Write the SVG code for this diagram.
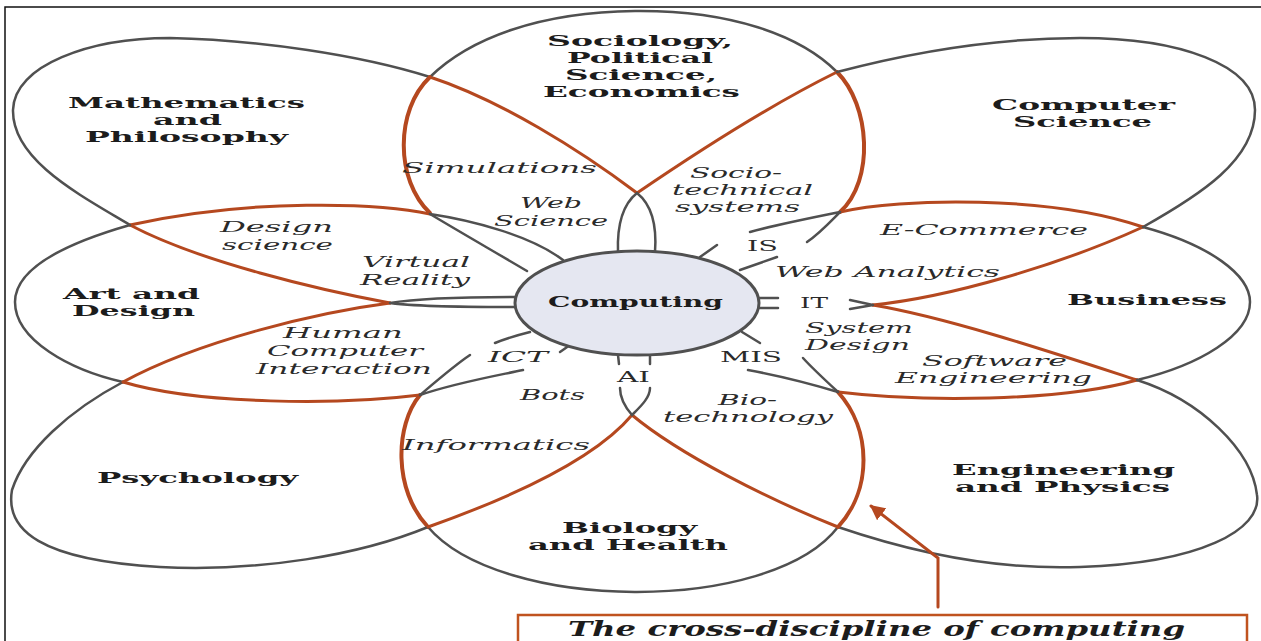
<svg xmlns="http://www.w3.org/2000/svg" width="1261" height="641" viewBox="0 0 1261 641">
<style>
.g{fill:none;stroke:#505050;stroke-width:2.5;stroke-linecap:round}
.r{fill:none;stroke:#b5481f;stroke-width:3;stroke-linecap:round}
.rt{stroke-width:4}
.b{font-family:"DejaVu Serif","Liberation Serif",serif;font-weight:bold;font-size:15px;fill:#1c1c1c}
.i{font-family:"DejaVu Serif","Liberation Serif",serif;font-style:italic;font-size:15px;fill:#2a2a2a}
.u{font-family:"DejaVu Serif","Liberation Serif",serif;font-size:15px;fill:#2a2a2a}
.cap{font-family:"DejaVu Serif","Liberation Serif",serif;font-weight:bold;font-style:italic;font-size:20px;fill:#1c1c1c}
</style>
<defs>
<marker id="head" viewBox="0 0 10 10" refX="9" refY="5" markerWidth="5" markerHeight="5" orient="auto" markerUnits="strokeWidth">
<path d="M0,0 L10,5 L0,10 Z" fill="#b5481f"/>
</marker>
</defs>
<rect width="1261" height="641" fill="#fff"/>
<path d="M5,641 V7 H1261" fill="none" stroke="#111" stroke-width="1.5"/>

<g id="math">
<path class="g" d="M430,77 C360,55 260,40 170,38 C90,38 14,65 13,110 C12,160 80,195 130,225"/>
<path class="r" d="M637,193 C580,150 500,100 430,77"/>
<path class="r" d="M130,225 C200,262 320,290 390,303"/>
<text class="b" x="68" y="108" textLength="237" lengthAdjust="spacingAndGlyphs">Mathematics</text>
<text class="b" x="153" y="125" textLength="69" lengthAdjust="spacingAndGlyphs">and</text>
<text class="b" x="85" y="142" textLength="203" lengthAdjust="spacingAndGlyphs">Philosophy</text>
</g>

<g id="sociology">
<path class="g" d="M430,77 C470,38 540,12 635,11 C730,10 800,35 837,72"/>
<path class="r rt" d="M430,213 C395,180 395,110 430,77"/>
<path class="r rt" d="M837,72 C870,105 875,180 840,212"/>
<text class="b" x="547" y="46" textLength="186" lengthAdjust="spacingAndGlyphs">Sociology,</text>
<text class="b" x="567" y="63" textLength="146" lengthAdjust="spacingAndGlyphs">Political</text>
<text class="b" x="565" y="80" textLength="152" lengthAdjust="spacingAndGlyphs">Science,</text>
<text class="b" x="543" y="97" textLength="197" lengthAdjust="spacingAndGlyphs">Economics</text>
</g>

<g id="cs">
<path class="r" d="M637,193 C700,150 770,105 837,72"/>
<path class="g" d="M837,72 C920,50 1000,38 1080,38 C1180,38 1255,65 1255,110 C1255,160 1200,195 1143,227"/>
<path class="r" d="M1143,227 C1060,265 950,297 873,305"/>
<text class="b" x="992" y="110" textLength="183" lengthAdjust="spacingAndGlyphs">Computer</text>
<text class="b" x="1013" y="127" textLength="139" lengthAdjust="spacingAndGlyphs">Science</text>
</g>

<g id="business">
<path class="r" d="M840,212 C900,198 1050,195 1143,227"/>
<path class="g" d="M1143,227 C1210,245 1250,275 1250,302 C1250,335 1200,365 1137,380"/>
<path class="r" d="M1137,380 C1060,402 920,402 838,392"/>
<text class="b" x="1067" y="305" textLength="160" lengthAdjust="spacingAndGlyphs">Business</text>
</g>

<g id="engineering">
<path class="r" d="M1137,380 C1060,355 950,318 873,305"/>
<path class="g" d="M838,527 C920,555 1000,570 1080,567 C1200,563 1262,530 1257,495 C1252,450 1200,400 1137,380"/>
<path class="r" d="M632,415 C680,455 770,500 838,527"/>
<text class="b" x="952" y="475" textLength="223" lengthAdjust="spacingAndGlyphs">Engineering</text>
<text class="b" x="955" y="492" textLength="215" lengthAdjust="spacingAndGlyphs">and Physics</text>
</g>

<g id="biology">
<path class="r rt" d="M420,395 C395,425 393,490 428,527"/>
<path class="g" d="M428,527 C500,612 770,615 838,527"/>
<path class="r rt" d="M838,527 C872,490 872,430 838,392"/>
<text class="b" x="562" y="533" textLength="135" lengthAdjust="spacingAndGlyphs">Biology</text>
<text class="b" x="528" y="550" textLength="200" lengthAdjust="spacingAndGlyphs">and Health</text>
</g>

<g id="psychology">
<path class="r" d="M390,303 C320,312 200,340 123,382"/>
<path class="g" d="M123,382 C70,410 25,450 12,490 C5,530 40,560 160,567 C260,572 360,555 428,527"/>
<path class="r" d="M428,527 C490,505 590,465 632,415"/>
<text class="b" x="97" y="483" textLength="201" lengthAdjust="spacingAndGlyphs">Psychology</text>
</g>

<g id="art">
<path class="r" d="M430,214 C380,203 250,198 130,225"/>
<path class="g" d="M130,225 C60,245 15,270 15,302 C15,340 70,370 123,382"/>
<path class="r" d="M123,382 C200,405 340,405 420,395"/>
<text class="b" x="63" y="299" textLength="137" lengthAdjust="spacingAndGlyphs">Art and</text>
<text class="b" x="72" y="316" textLength="123" lengthAdjust="spacingAndGlyphs">Design</text>
</g>

<g id="connectors">
<!-- spokes from the lobe crossings into the centre -->
<path class="g" d="M637,193 C652,205 657,225 655,252"/>
<path class="g" d="M637,193 C622,205 617,225 618,252"/>
<path class="g" d="M430,214 C470,220 530,235 563,260"/>
<path class="g" d="M430,214 C460,232 500,255 527,271"/>
<path class="g" d="M840,212 C810,218 775,225 750,232"/>
<path class="g" d="M717,245 L700,257"/>
<path class="g" d="M840,212 C830,222 820,233 807,242"/>
<path class="g" d="M777,257 L740,270"/>
<path class="g" d="M873,305 L850,300 M873,305 L850,309"/>
<path class="g" d="M760,298 H778 M760,308 H778"/>
<path class="g" d="M838,392 C825,380 812,368 803,358"/>
<path class="g" d="M838,392 C805,382 775,375 748,370"/>
<path class="g" d="M742,332 L760,343"/>
<path class="g" d="M632,415 C625,407 620,398 620,388"/>
<path class="g" d="M632,415 C640,407 650,398 650,388"/>
<path class="g" d="M618,355 L619,364 M650,355 L650,364"/>
<path class="g" d="M420,395 C440,378 455,365 470,355"/>
<path class="g" d="M495,343 C507,338 518,335 530,332"/>
<path class="g" d="M420,395 C455,383 495,376 523,370"/>
<path class="g" d="M560,352 L570,345"/>
<path class="g" d="M390,303 C420,298 470,297 517,297 M390,303 C420,307 470,307 517,307"/>
<!-- pointer from the caption -->
<path class="r" d="M938,607 V558 L871,506" marker-end="url(#head)"/>
</g>

<g id="computing">
<ellipse cx="637" cy="303" rx="122" ry="52" fill="#e5e7f1" stroke="#505050" stroke-width="3"/>
<text class="b" x="548" y="307" textLength="175" lengthAdjust="spacingAndGlyphs" font-size="16">Computing</text>
</g>

<g id="overlap-labels">
<text class="i" x="402" y="173" textLength="195" lengthAdjust="spacingAndGlyphs">Simulations</text>
<text class="i" x="520" y="208" textLength="62" lengthAdjust="spacingAndGlyphs">Web</text>
<text class="i" x="494" y="226" textLength="114" lengthAdjust="spacingAndGlyphs">Science</text>
<text class="i" x="690" y="178" textLength="92" lengthAdjust="spacingAndGlyphs">Socio-</text>
<text class="i" x="672" y="195" textLength="141" lengthAdjust="spacingAndGlyphs">technical</text>
<text class="i" x="675" y="212" textLength="125" lengthAdjust="spacingAndGlyphs">systems</text>
<text class="u" x="747" y="251" textLength="31" lengthAdjust="spacingAndGlyphs">IS</text>
<text class="i" x="880" y="235" textLength="208" lengthAdjust="spacingAndGlyphs">E-Commerce</text>
<text class="i" x="775" y="277" textLength="225" lengthAdjust="spacingAndGlyphs">Web Analytics</text>
<text class="u" x="800" y="308" textLength="28" lengthAdjust="spacingAndGlyphs">IT</text>
<text class="i" x="805" y="333" textLength="108" lengthAdjust="spacingAndGlyphs">System</text>
<text class="i" x="805" y="350" textLength="105" lengthAdjust="spacingAndGlyphs">Design</text>
<text class="i" x="922" y="366" textLength="145" lengthAdjust="spacingAndGlyphs">Software</text>
<text class="i" x="895" y="383" textLength="197" lengthAdjust="spacingAndGlyphs">Engineering</text>
<text class="u" x="720" y="362" textLength="62" lengthAdjust="spacingAndGlyphs">MIS</text>
<text class="i" x="718" y="405" textLength="59" lengthAdjust="spacingAndGlyphs">Bio-</text>
<text class="i" x="663" y="422" textLength="170" lengthAdjust="spacingAndGlyphs">technology</text>
<text class="u" x="617" y="382" textLength="33" lengthAdjust="spacingAndGlyphs">AI</text>
<text class="i" x="520" y="400" textLength="65" lengthAdjust="spacingAndGlyphs">Bots</text>
<text class="i" x="488" y="362" textLength="60" lengthAdjust="spacingAndGlyphs">ICT</text>
<text class="i" x="402" y="450" textLength="188" lengthAdjust="spacingAndGlyphs">Informatics</text>
<text class="i" x="283" y="338" textLength="120" lengthAdjust="spacingAndGlyphs">Human</text>
<text class="i" x="267" y="356" textLength="156" lengthAdjust="spacingAndGlyphs">Computer</text>
<text class="i" x="256" y="374" textLength="176" lengthAdjust="spacingAndGlyphs">Interaction</text>
<text class="i" x="362" y="267" textLength="108" lengthAdjust="spacingAndGlyphs">Virtual</text>
<text class="i" x="360" y="285" textLength="110" lengthAdjust="spacingAndGlyphs">Reality</text>
<text class="i" x="220" y="232" textLength="113" lengthAdjust="spacingAndGlyphs">Design</text>
<text class="i" x="222" y="250" textLength="111" lengthAdjust="spacingAndGlyphs">science</text>
</g>

<g id="caption">
<rect x="518" y="615" width="729" height="40" fill="#fff" stroke="#c0531f" stroke-width="2.5"/>
<text class="cap" x="568" y="636" textLength="617" lengthAdjust="spacingAndGlyphs">The cross-discipline of computing</text>
</g>
</svg>
